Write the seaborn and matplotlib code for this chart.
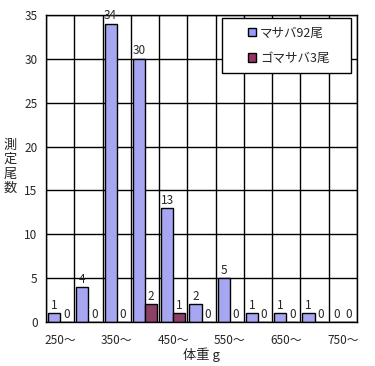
import pandas as pd
import matplotlib.pyplot as plt
import seaborn as sns
from matplotlib.patches import Patch, Rectangle

# data
bins = ["250～", "300～", "350～", "400～", "450～", "500～",
        "550～", "600～", "650～", "700～", "750～"]
masaba = [1, 4, 34, 30, 13, 2, 5, 1, 1, 1, 0]
gomasaba = [0, 0, 0, 2, 1, 0, 0, 0, 0, 0, 0]
series = ["マサバ92尾", "ゴマサバ3尾"]
colors = ["#9999FF", "#993366"]

df = pd.DataFrame({
    "bin": bins * 2,
    "count": masaba + gomasaba,
    "species": [series[0]] * len(bins) + [series[1]] * len(bins),
})

sns.set_style("white")
plt.rcParams["font.family"] = ["Noto Sans CJK JP", "DejaVu Sans"]

fig = plt.figure(figsize=(3.75, 3.66), dpi=100)
ax = fig.add_axes([46 / 375, 44 / 366, 311 / 375, 307 / 366])

sns.barplot(data=df, x="bin", y="count", hue="species", order=bins,
            hue_order=series, palette=colors, width=0.86, gap=0,
            edgecolor="black", linewidth=1, legend=False, ax=ax)

for cont in ax.containers:
    ax.bar_label(cont, fontsize=8.5, padding=1)

ax.set_xlim(-0.5, len(bins) - 0.5)
ax.set_ylim(0, 35)
ax.set_yticks(range(0, 36, 5))
ax.set_xticks(range(len(bins)))
ax.set_xticklabels([b if i % 2 == 0 else "" for i, b in enumerate(bins)])
ax.set_xticks([i - 0.5 for i in range(len(bins) + 1)], minor=True)
ax.tick_params(axis="both", which="both", length=0, labelsize=8.5)
ax.tick_params(axis="x", pad=9)
ax.tick_params(axis="y", pad=6)

ax.grid(axis="y", color="black", linewidth=1)
ax.grid(axis="x", which="minor", color="black", linewidth=1)
ax.set_axisbelow(True)
for sp in ax.spines.values():
    sp.set_color("black")
    sp.set_linewidth(1)

ax.set_xlabel("体重 g", fontsize=9.5, labelpad=0)
ax.set_ylabel("")
fig.text(10 / 375, 1 - 167 / 366, "測\n定\n尾\n数", fontsize=9.5,
         ha="center", va="center", multialignment="center", linespacing=1.15)

# legend box
box = Rectangle((0.566, 0.811), 0.415, 0.179, transform=ax.transAxes,
                facecolor="white", edgecolor="black", linewidth=1, zorder=4)
ax.add_patch(box)
handles = [Patch(facecolor=c, edgecolor="black", label=s) for s, c in zip(series, colors)]
leg = ax.legend(handles=handles, loc="center", bbox_to_anchor=(0.78, 0.9),
                fontsize=9, frameon=False, handlelength=0.7, handleheight=0.7,
                handletextpad=0.3, labelspacing=1.0)
leg.set_zorder(5)

fig.savefig("out.png", dpi=100)
